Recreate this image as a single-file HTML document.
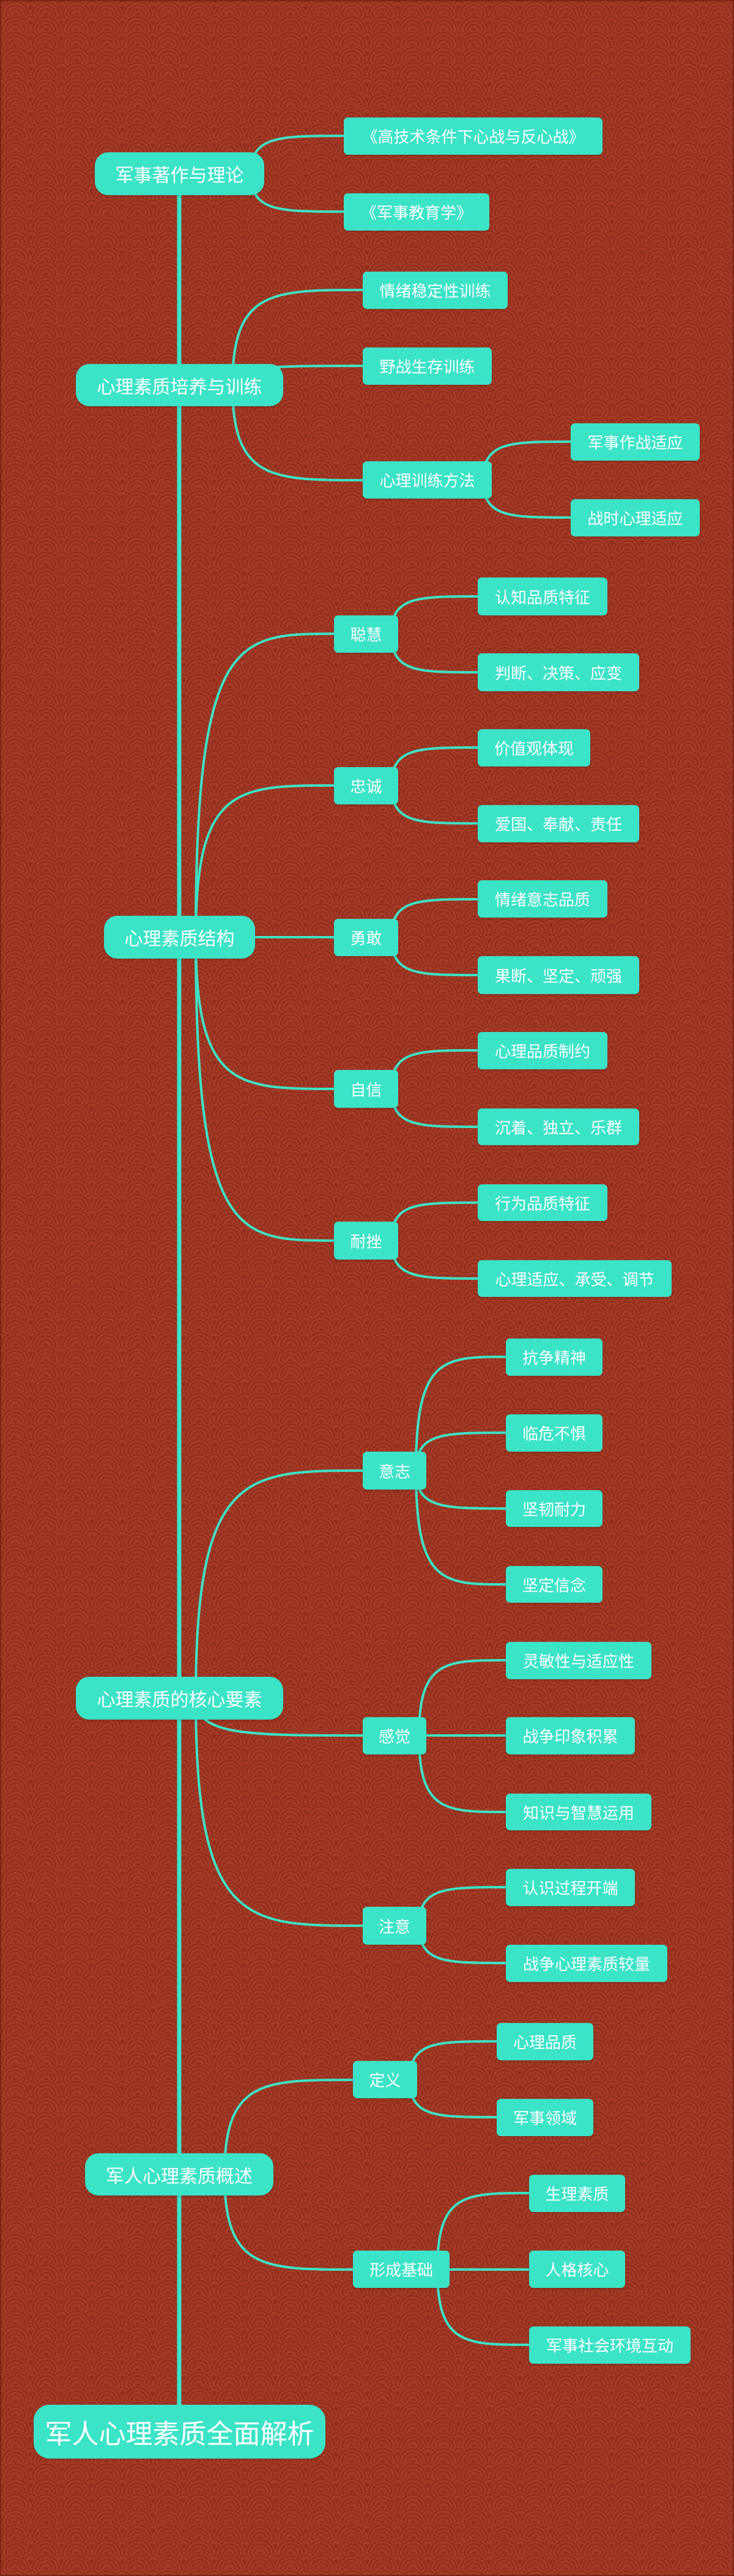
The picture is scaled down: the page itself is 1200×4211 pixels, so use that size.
<!DOCTYPE html>
<html><head><meta charset="utf-8">
<style>
html,body{margin:0;padding:0;}
body{width:1200px;height:4211px;position:relative;overflow:hidden;background:#9e3423;font-family:"Liberation Sans","Noto Sans CJK SC",sans-serif;}
svg.bg{position:absolute;left:0;top:0;}
.n{position:absolute;box-sizing:border-box;background:#3be3c7;color:#fff;display:flex;align-items:center;justify-content:center;white-space:nowrap;border-radius:7px;font-size:26px;box-shadow:0 2px 3px rgba(0,0,0,0.15);}
.l1{border-radius:22px;font-size:30px;}
.root{border-radius:26px;font-size:44px;}
</style></head><body>
<svg class="bg" width="1200" height="4211" xmlns="http://www.w3.org/2000/svg">
<defs>
<g id="sc">
<circle r="25" fill="#a43b27"/>
<circle r="22" fill="none" stroke="#922e1d" stroke-width="2.5"/>
<circle r="16" fill="none" stroke="#922e1d" stroke-width="2.5"/>
<circle r="10" fill="none" stroke="#922e1d" stroke-width="2.5"/>
<circle r="4" fill="#922e1d"/>
</g>
<pattern id="p" width="50" height="25" patternUnits="userSpaceOnUse">
<rect width="50" height="25" fill="#9e3423"/>
<use href="#sc" x="0" y="12.5"/>
<use href="#sc" x="50" y="12.5"/>
<use href="#sc" x="25" y="25"/>
</pattern>
</defs>
<rect width="1200" height="4211" fill="url(#p)"/>
<rect x="0" y="0" width="1200" height="4211" fill="none" stroke="#6e2014" stroke-width="3"/>
<line x1="293" y1="300" x2="293" y2="3940" stroke="#3be3c7" stroke-width="7"/>
<g fill="none" stroke="#3be3c7" stroke-width="4">
<path d="M410 284 C410 222,456 222,562 222"/>
<path d="M410 284 C410 346,456 346,562 346"/>
<path d="M380 630 C380 474,444 474,593 474"/>
<path d="M380 630 C380 598,444 598,593 598"/>
<path d="M380 630 C380 785,444 785,593 785"/>
<path d="M790 785 C790 722,833 722,933 722"/>
<path d="M790 785 C790 846,833 846,933 846"/>
<path d="M320 1532 C320 1036,388 1036,546 1036"/>
<path d="M320 1532 C320 1284,388 1284,546 1284"/>
<path d="M320 1532 C320 1532,388 1532,546 1532"/>
<path d="M320 1532 C320 1780,388 1780,546 1780"/>
<path d="M320 1532 C320 2028,388 2028,546 2028"/>
<path d="M640 1036 C640 975,682 975,781 975"/>
<path d="M640 1036 C640 1099,682 1099,781 1099"/>
<path d="M640 1284 C640 1222,682 1222,781 1222"/>
<path d="M640 1284 C640 1346,682 1346,781 1346"/>
<path d="M640 1532 C640 1470,682 1470,781 1470"/>
<path d="M640 1532 C640 1594,682 1594,781 1594"/>
<path d="M640 1780 C640 1717,682 1717,781 1717"/>
<path d="M640 1780 C640 1842,682 1842,781 1842"/>
<path d="M640 2028 C640 1966,682 1966,781 1966"/>
<path d="M640 2028 C640 2090,682 2090,781 2090"/>
<path d="M320 2776 C320 2404,402 2404,593 2404"/>
<path d="M320 2776 C320 2837,402 2837,593 2837"/>
<path d="M320 2776 C320 3148,402 3148,593 3148"/>
<path d="M680 2404 C680 2218,724 2218,827 2218"/>
<path d="M680 2404 C680 2342,724 2342,827 2342"/>
<path d="M680 2404 C680 2466,724 2466,827 2466"/>
<path d="M680 2404 C680 2590,724 2590,827 2590"/>
<path d="M685 2837 C685 2714,728 2714,827 2714"/>
<path d="M685 2837 C685 2837,728 2837,827 2837"/>
<path d="M685 2837 C685 2962,728 2962,827 2962"/>
<path d="M685 3148 C685 3085,728 3085,827 3085"/>
<path d="M685 3148 C685 3209,728 3209,827 3209"/>
<path d="M367 3555 C367 3400,430 3400,577 3400"/>
<path d="M367 3555 C367 3710,430 3710,577 3710"/>
<path d="M670 3400 C670 3337,713 3337,812 3337"/>
<path d="M670 3400 C670 3461,713 3461,812 3461"/>
<path d="M715 3710 C715 3585,760 3585,865 3585"/>
<path d="M715 3710 C715 3710,760 3710,865 3710"/>
<path d="M715 3710 C715 3833,760 3833,865 3833"/>
</g>
</svg>

<div class="n l1" style="left:155px;top:249px;width:277px;height:70px">军事著作与理论</div>
<div class="n l1" style="left:124px;top:595px;width:339px;height:69px">心理素质培养与训练</div>
<div class="n l1" style="left:170px;top:1497px;width:247px;height:70px">心理素质结构</div>
<div class="n l1" style="left:124px;top:2741px;width:339px;height:70px">心理素质的核心要素</div>
<div class="n l1" style="left:139px;top:3520px;width:308px;height:69px">军人心理素质概述</div>
<div class="n root" style="left:55px;top:3931px;width:477px;height:88px">军人心理素质全面解析</div>

<div class="n" style="left:562px;top:192px;width:423px;height:61px">《高技术条件下心战与反心战》</div>
<div class="n" style="left:562px;top:316px;width:238px;height:61px">《军事教育学》</div>
<div class="n" style="left:593px;top:444px;width:237px;height:61px">情绪稳定性训练</div>
<div class="n" style="left:593px;top:568px;width:211px;height:61px">野战生存训练</div>
<div class="n" style="left:593px;top:754px;width:211px;height:61px">心理训练方法</div>
<div class="n" style="left:933px;top:692px;width:211px;height:61px">军事作战适应</div>
<div class="n" style="left:933px;top:816px;width:211px;height:61px">战时心理适应</div>

<div class="n" style="left:546px;top:1006px;width:105px;height:61px">聪慧</div>
<div class="n" style="left:781px;top:944px;width:212px;height:62px">认知品质特征</div>
<div class="n" style="left:781px;top:1068px;width:264px;height:62px">判断、决策、应变</div>
<div class="n" style="left:546px;top:1254px;width:105px;height:61px">忠诚</div>
<div class="n" style="left:781px;top:1192px;width:184px;height:61px">价值观体现</div>
<div class="n" style="left:781px;top:1316px;width:264px;height:61px">爱国、奉献、责任</div>
<div class="n" style="left:546px;top:1502px;width:105px;height:61px">勇敢</div>
<div class="n" style="left:781px;top:1439px;width:212px;height:61px">情绪意志品质</div>
<div class="n" style="left:781px;top:1563px;width:264px;height:62px">果断、坚定、顽强</div>
<div class="n" style="left:546px;top:1749px;width:105px;height:62px">自信</div>
<div class="n" style="left:781px;top:1687px;width:212px;height:61px">心理品质制约</div>
<div class="n" style="left:781px;top:1812px;width:264px;height:60px">沉着、独立、乐群</div>
<div class="n" style="left:546px;top:1997px;width:105px;height:62px">耐挫</div>
<div class="n" style="left:781px;top:1936px;width:212px;height:60px">行为品质特征</div>
<div class="n" style="left:781px;top:2060px;width:317px;height:60px">心理适应、承受、调节</div>

<div class="n" style="left:593px;top:2373px;width:104px;height:62px">意志</div>
<div class="n" style="left:827px;top:2188px;width:158px;height:61px">抗争精神</div>
<div class="n" style="left:827px;top:2312px;width:158px;height:61px">临危不惧</div>
<div class="n" style="left:827px;top:2436px;width:158px;height:60px">坚韧耐力</div>
<div class="n" style="left:827px;top:2560px;width:158px;height:60px">坚定信念</div>
<div class="n" style="left:593px;top:2807px;width:104px;height:61px">感觉</div>
<div class="n" style="left:827px;top:2684px;width:238px;height:61px">灵敏性与适应性</div>
<div class="n" style="left:827px;top:2807px;width:211px;height:61px">战争印象积累</div>
<div class="n" style="left:827px;top:2932px;width:238px;height:60px">知识与智慧运用</div>
<div class="n" style="left:593px;top:3117px;width:104px;height:62px">注意</div>
<div class="n" style="left:827px;top:3055px;width:211px;height:61px">认识过程开端</div>
<div class="n" style="left:827px;top:3179px;width:264px;height:61px">战争心理素质较量</div>

<div class="n" style="left:577px;top:3369px;width:105px;height:61px">定义</div>
<div class="n" style="left:812px;top:3307px;width:158px;height:61px">心理品质</div>
<div class="n" style="left:812px;top:3431px;width:158px;height:61px">军事领域</div>
<div class="n" style="left:577px;top:3679px;width:158px;height:61px">形成基础</div>
<div class="n" style="left:865px;top:3555px;width:157px;height:61px">生理素质</div>
<div class="n" style="left:865px;top:3679px;width:157px;height:61px">人格核心</div>
<div class="n" style="left:865px;top:3803px;width:264px;height:61px">军事社会环境互动</div>
</body></html>
